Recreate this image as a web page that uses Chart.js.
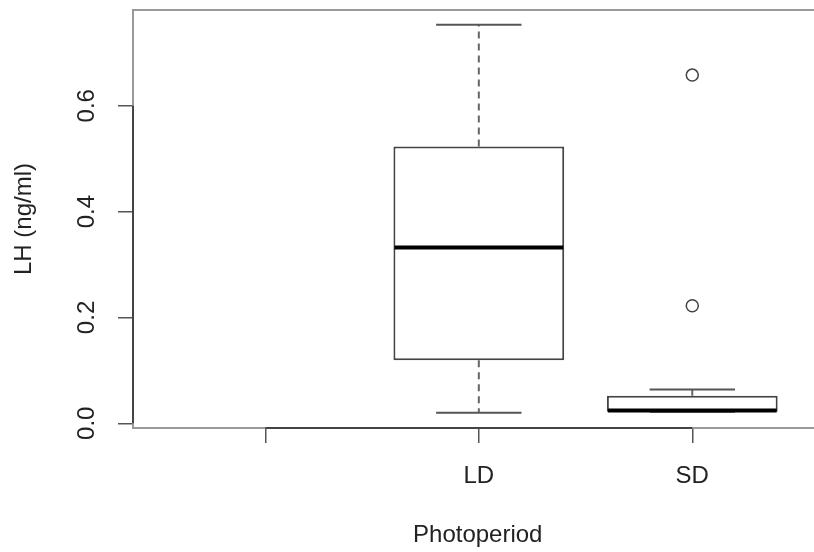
<!DOCTYPE html>
<html>
<head>
<meta charset="utf-8">
<script src="https://cdn.jsdelivr.net/npm/chart.js@4"></script>
<style>
html, body { margin:0; padding:0; background:#fff; overflow:hidden; }
#wrap { width:830px; height:552px; }
</style>
</head>
<body>
<div id="wrap"><canvas id="chart" width="830" height="552"></canvas></div>
<script>

// DATA
const xTickLabels = ["", "LD", "SD"];
const groupPos = [2, 3];
const whiskerLow = [0.020, 0.022];
const q1 = [0.119, 0.022];
const median = [0.332, 0.024];
const q3 = [0.523, 0.052];
const whiskerHigh = [0.753, 0.064];
const outlierPos = [3, 3];
const outlierVals = [0.222, 0.658];
const yTicks = [0, 0.2, 0.4, 0.6];

const FONT = "Liberation Sans";

let boxData = groupPos.map((p, i) => ({x: p, y: [q1[i], q3[i]]}));
let outData = outlierVals.map((v, i) => ({x: outlierPos[i], y: v}));

// whiskers, caps, medians + frame
const boxExtras = {
  id: "boxExtras",
  afterDatasetsDraw(chart){
    const ctx = chart.ctx;
    const xs = chart.scales.x, ys = chart.scales.y;
    const unit = xs.getPixelForValue(1) - xs.getPixelForValue(0);
    ctx.save();
    groupPos.forEach((p, i) => {
      let cx = xs.getPixelForValue(p);
      // dashed whiskers
      ctx.strokeStyle = "#666";
      ctx.lineWidth = 2;
      ctx.setLineDash([7, 5]);
      ctx.beginPath();
      ctx.moveTo(cx, ys.getPixelForValue(q3[i]));
      ctx.lineTo(cx, ys.getPixelForValue(whiskerHigh[i]));
      ctx.moveTo(cx, ys.getPixelForValue(q1[i]));
      ctx.lineTo(cx, ys.getPixelForValue(whiskerLow[i]));
      ctx.stroke();
      ctx.setLineDash([]);
      // caps
      ctx.strokeStyle = "#555";
      ctx.beginPath();
      [whiskerHigh[i], whiskerLow[i]].forEach(v => {
        let y = ys.getPixelForValue(v);
        ctx.moveTo(cx - unit * 0.2, y);
        ctx.lineTo(cx + unit * 0.2, y);
      });
      ctx.stroke();
      // median
      ctx.strokeStyle = "#000";
      ctx.lineWidth = 4;
      ctx.beginPath();
      let my = ys.getPixelForValue(median[i]);
      ctx.moveTo(cx - unit * 0.4 + 1, my);
      ctx.lineTo(cx + unit * 0.4 - 1, my);
      ctx.stroke();
    });
    ctx.restore();
  },
  afterDraw(chart){
    const ctx = chart.ctx;
    const a = chart.chartArea;
    const xs = chart.scales.x, ys = chart.scales.y;
    ctx.save();
    ctx.strokeStyle = "#999";
    ctx.lineWidth = 2;
    ctx.strokeRect(a.left, a.top, a.right - a.left, a.bottom - a.top);
    ctx.strokeStyle = "#444";
    ctx.beginPath();
    ctx.moveTo(xs.getPixelForValue(1), a.bottom);
    ctx.lineTo(xs.getPixelForValue(3), a.bottom);
    ctx.moveTo(a.left, ys.getPixelForValue(yTicks[0]));
    ctx.lineTo(a.left, ys.getPixelForValue(yTicks[yTicks.length - 1]));
    ctx.stroke();
    ctx.restore();
  }
};

new Chart(document.getElementById("chart"), {
  type: "bar",
  data: {
    datasets: [{
      data: boxData,
      backgroundColor: "#fff",
      borderColor: "#444",
      borderWidth: 2,
      borderSkipped: false,
      barPercentage: 1,
      categoryPercentage: 0.8
    }, {
      type: "scatter",
      data: outData,
      pointRadius: 6,
      pointBorderWidth: 1.5,
      pointBorderColor: "#444",
      pointBackgroundColor: "#fff"
    }]
  },
  options: {
    responsive: false,
    animation: false,
    devicePixelRatio: 1,
    layout: { padding: { left: 0, right: 7, top: 10, bottom: 0 } },
    plugins: { legend: { display: false }, tooltip: { enabled: false } },
    scales: {
      x: {
        type: "linear",
        offset: false,
        min: 0.38,
        max: 3.61,
        afterBuildTicks: s => { s.ticks = [1, 2, 3].map(v => ({value: v})); },
        afterFit: s => { s.height = 124; s.paddingLeft = 0; s.paddingRight = 0; },
        grid: { offset: false, drawOnChartArea: false, tickLength: 15, color: "#555", lineWidth: 1.5 },
        border: { display: false },
        ticks: {
          callback: v => xTickLabels[v - 1],
          maxRotation: 0,
          padding: 19,
          color: "#222",
          font: { family: FONT, size: 24 }
        },
        title: {
          display: true,
          text: "Photoperiod",
          color: "#222",
          font: { family: FONT, size: 24 },
          padding: { top: 0, bottom: 2 }
        }
      },
      y: {
        min: -0.0089,
        max: 0.781,
        afterBuildTicks: s => { s.ticks = yTicks.map(v => ({value: v})); },
        afterFit: s => { s.width = 133; s.paddingTop = 0; s.paddingBottom = 0; },
        grid: { drawOnChartArea: false, tickLength: 15, color: "#555", lineWidth: 1.5 },
        border: { display: false },
        ticks: {
          callback: v => v.toFixed(1),
          minRotation: 90,
          maxRotation: 90,
          crossAlign: "center",
          padding: 14,
          color: "#222",
          font: { family: FONT, size: 24 }
        },
        title: {
          display: true,
          text: "LH (ng/ml)",
          color: "#222",
          font: { family: FONT, size: 24 },
          padding: { top: 10, bottom: 0 }
        }
      }
    }
  },
  plugins: [boxExtras]
});

</script>
</body>
</html>
